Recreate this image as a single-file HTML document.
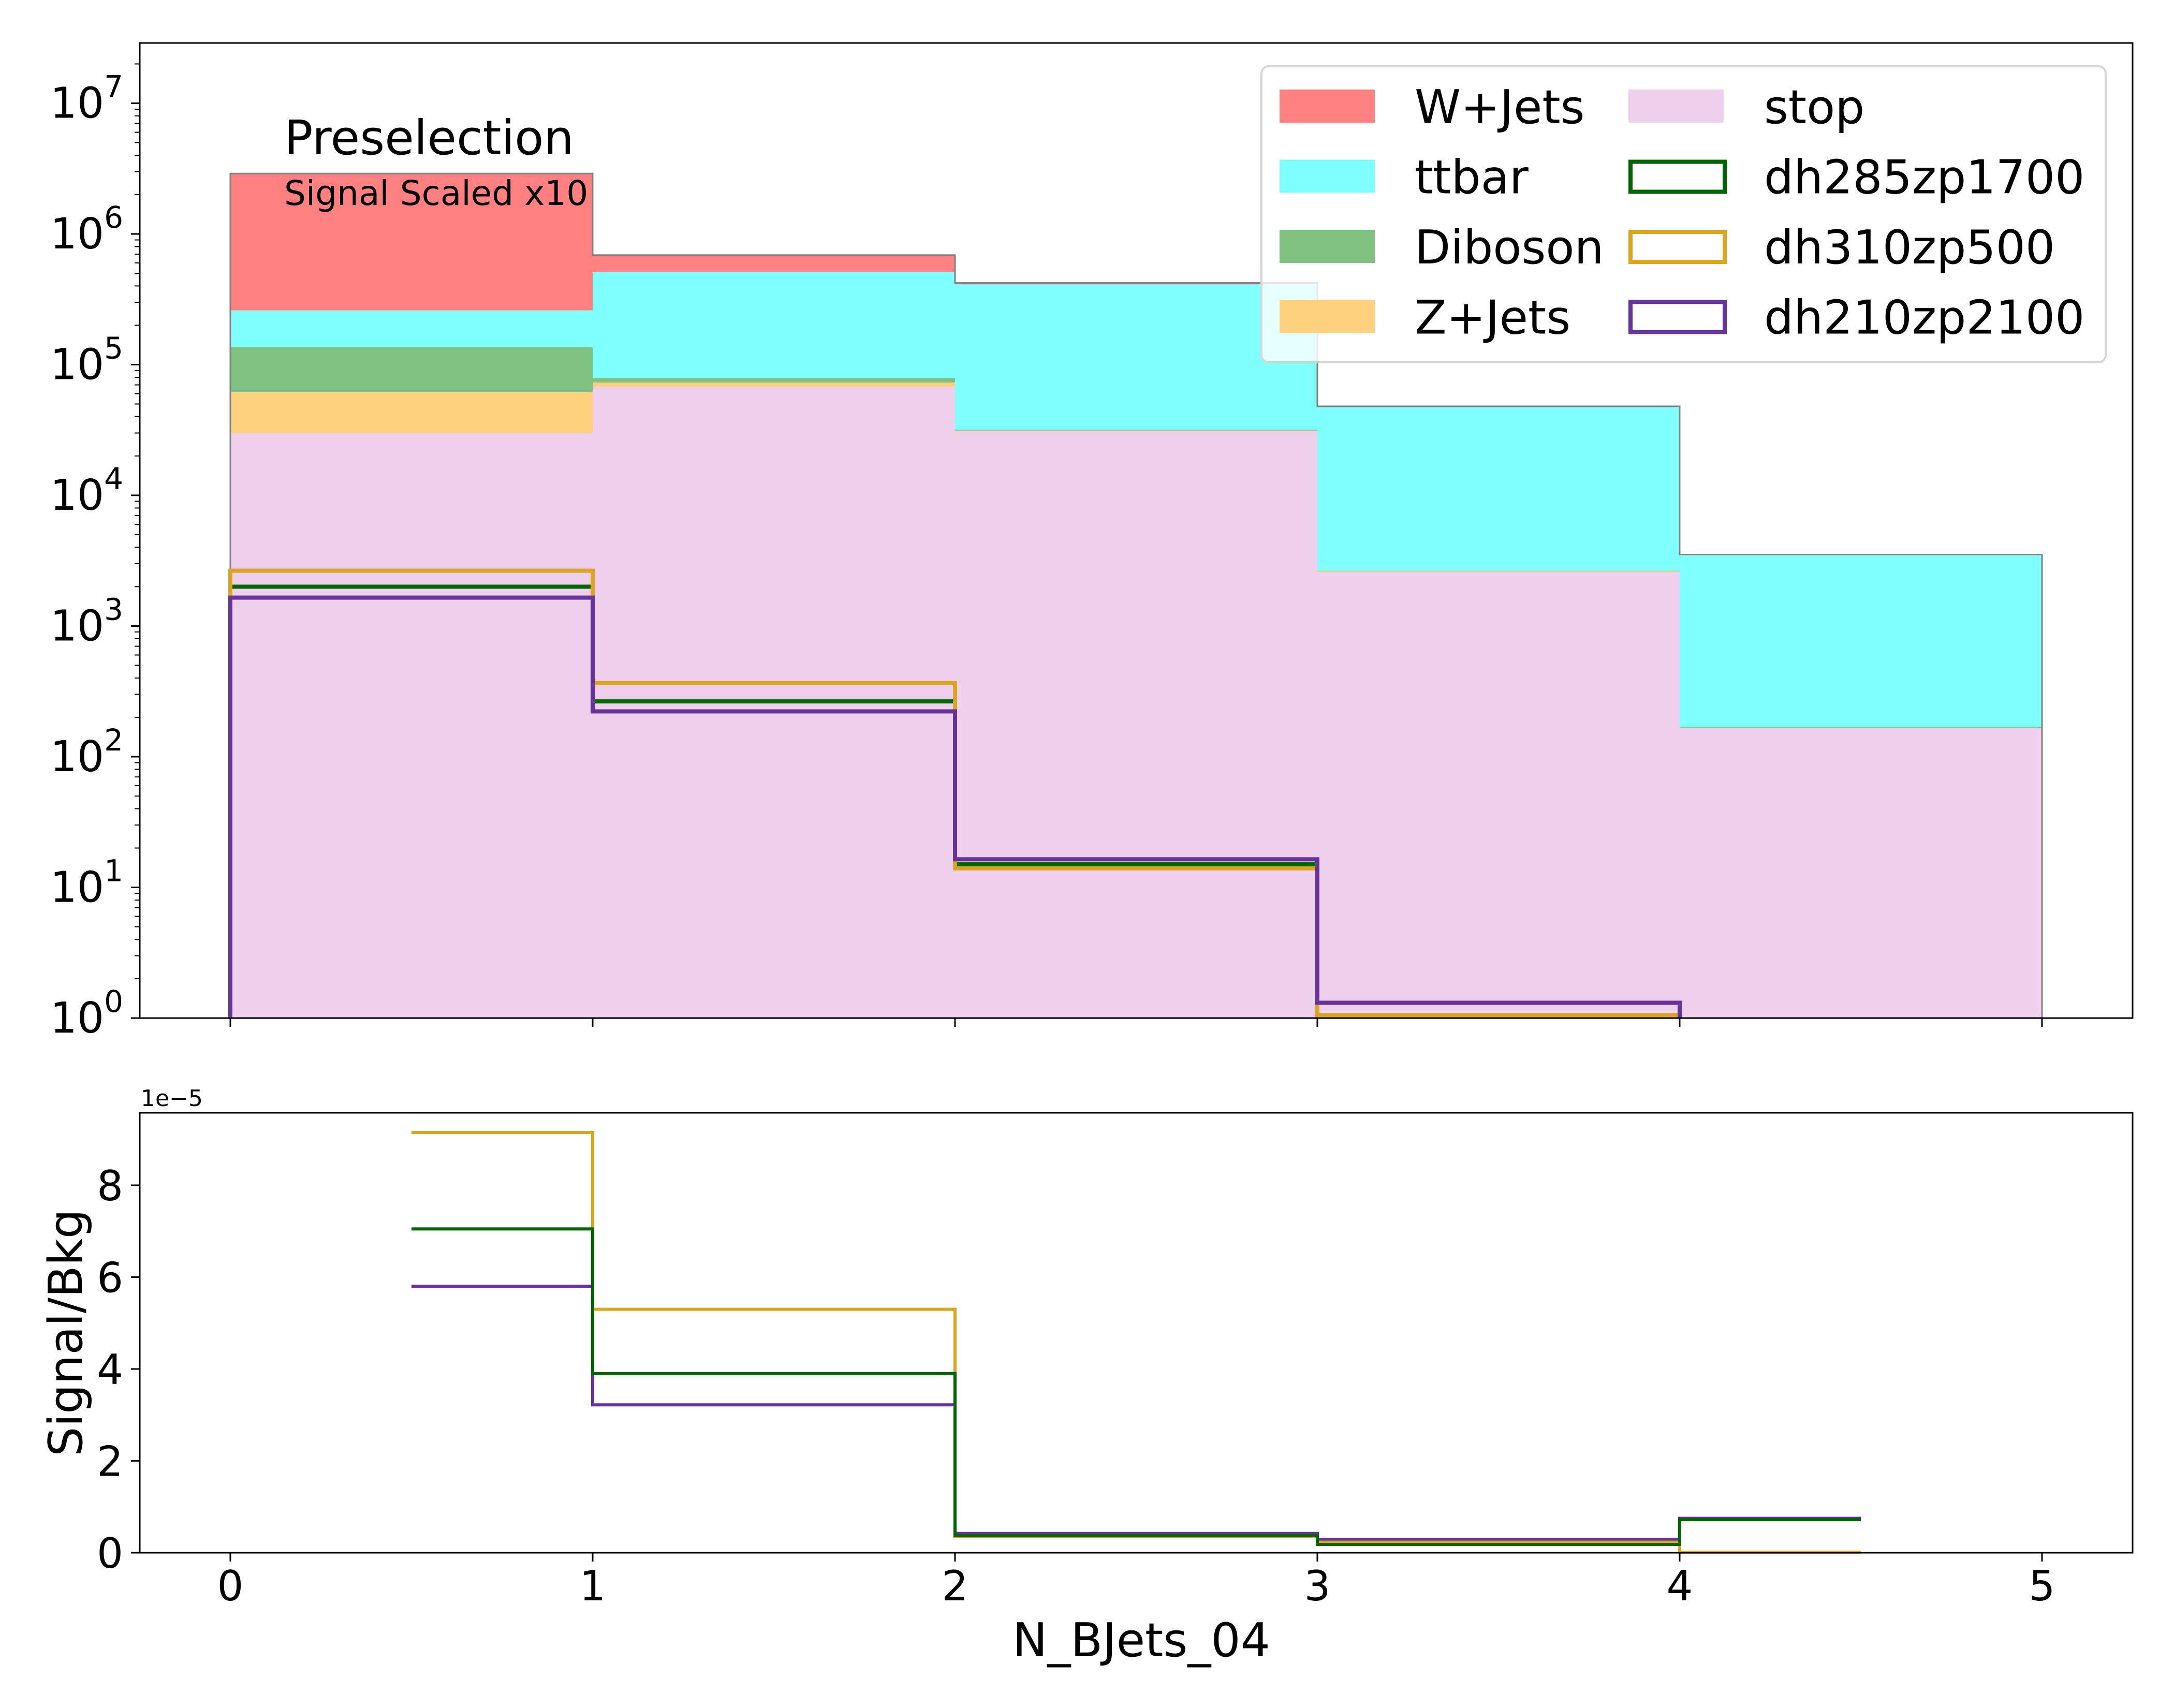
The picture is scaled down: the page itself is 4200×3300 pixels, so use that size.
<!DOCTYPE html>
<html><head><meta charset="utf-8"><style>
html,body{margin:0;padding:0;background:#fff;}
svg{display:block;font-family:"DejaVu Sans","Liberation Sans",sans-serif;}
</style></head><body>
<svg id="chart" width="4200" height="3300" xmlns="http://www.w3.org/2000/svg"></svg>
<script>
const binEdges = [0,1,2,3,4,5];
const stopVals = [30000, 68000, 31000, 2600, 165];
const zjetsVals = [32000, 5000, 300, 20, 1];
const dibosonVals = [74000, 6000, 500, 30, 2];
const ttbarVals = [124000, 430000, 380000, 44850, 3330];
const wjetsVals = [2640000, 180000, 10000, 500, 20];
const sigGreen = [2000, 265, 15, 1.05, 0];
const sigOrange = [2650, 365, 14, 1.05, 0];
const sigPurple = [1650, 222, 16.4, 1.31, 0];
const ratioGreen = [7.05, 3.9, 0.37, 0.18, 0.72];
const ratioOrange = [9.15, 5.3, 0.35, 0.23, 0.01];
const ratioPurple = [5.8, 3.22, 0.42, 0.29, 0.75];
const xTicks = [0,1,2,3,4,5];
const logTicks = [0,1,2,3,4,5,6,7];
const ratioTicks = [0,2,4,6,8];

const NS="http://www.w3.org/2000/svg";
const svg=document.getElementById('chart');
function el(tag,attrs,parent){const e=document.createElementNS(NS,tag);for(const k in attrs)e.setAttribute(k,attrs[k]);(parent||svg).appendChild(e);return e;}

const L=270,R=4120;
const X=v=>445+v*700;
const UT=83,UB=1967,DEC=252.5;
const Y=v=>UB-Math.log10(Math.max(v,1e-9))*DEC;
const LT=2150,LB=3000;
const YR=v=>LB-v*88.75;

const upper=el('g',{});


const clipU=el('clipPath',{id:'cu'});el('rect',{x:L,y:UT,width:R-L,height:UB-UT},clipU);
const plotU=el('g',{'clip-path':'url(#cu)'},upper);

const layers=[['stop',stopVals,'#eecfec'],['zjets',zjetsVals,'#fed17f'],['diboson',dibosonVals,'#80c080'],['ttbar',ttbarVals,'#80ffff'],['wjets',wjetsVals,'#ff8080']];
const cum=[0,0,0,0,0];
layers.forEach(([nm,vals,col])=>{
  for(let i=0;i<vals.length;i++){
    const lo=cum[i],hi=cum[i]+vals[i];
    const y0=lo<=0?UB+10:Y(lo), y1=Y(hi);
    const r=el('rect',{x:X(binEdges[i]),y:y1,width:X(binEdges[i+1])-X(binEdges[i]),height:Math.max(0,y0-y1),fill:col},plotU);
    
    
    cum[i]=hi;
  }
});
let d='M'+X(0)+','+(UB+10);
for(let i=0;i<cum.length;i++){d+=' L'+X(binEdges[i])+','+Y(cum[i])+' L'+X(binEdges[i+1])+','+Y(cum[i]);}
d+=' L'+X(5)+','+(UB+10);
const tot=el('path',{d:d,fill:'none',stroke:'#808080','stroke-width':3},plotU);



function stepHist(vals,col,name){
  let p='M'+X(0)+','+(UB+10);
  for(let i=0;i<vals.length;i++){const y=vals[i]>0?Y(vals[i]):UB+10;p+=' L'+X(binEdges[i])+','+y+' L'+X(binEdges[i+1])+','+y;}
  const e=el('path',{d:p,fill:'none',stroke:col,'stroke-width':8},plotU);
  
  
}
stepHist(sigGreen,'#006400','dh285zp1700-line');
stepHist(sigOrange,'#daa520','dh310zp500-line');
stepHist(sigPurple,'#663399','dh210zp2100-line');

el('rect',{x:L,y:UT,width:R-L,height:UB-UT,fill:'none',stroke:'#000','stroke-width':3},upper);
logTicks.forEach(k=>{
  const y=Y(Math.pow(10,k));
  el('line',{x1:L-17,x2:L,y1:y,y2:y,stroke:'#000','stroke-width':3},upper);
  const t=el('text',{x:L-32,y:y+28,'text-anchor':'end','font-size':82},upper);
  
  
  t.textContent='10';
  const s=el('tspan',{dy:-40,'font-size':58},t);s.textContent=String(k);
  for(let m=2;m<=9;m++){const yy=Y(m*Math.pow(10,k));if(yy>=UT)el('line',{x1:L-10,x2:L,y1:yy,y2:yy,stroke:'#000','stroke-width':2},upper);}
});
xTicks.forEach(v=>el('line',{x1:X(v),x2:X(v),y1:UB,y2:UB+17,stroke:'#000','stroke-width':3},upper));

const t1=el('text',{x:549,y:298,'font-size':92},upper);t1.textContent='Preselection';

const t2=el('text',{x:549,y:396,'font-size':66},upper);t2.textContent='Signal Scaled x10';


const lg=el('g',{});


el('rect',{x:2437,y:128,width:1631,height:572,rx:14,fill:'rgba(255,255,255,0.8)',stroke:'#d6d6d6','stroke-width':4},lg);
const leg=[['W+Jets','#ff8080',0,0,0],['ttbar','#80ffff',0,1,0],['Diboson','#80c080',0,2,0],['Z+Jets','#fed17f',0,3,0],['stop','#eecfec',1,0,0],['dh285zp1700','#006400',1,1,1],['dh310zp500','#daa520',1,2,1],['dh210zp2100','#663399',1,3,1]];
leg.forEach(([lab,col,c,r,outline])=>{
  const px=c?3146:2472, tx=c?3408:2733, cy=205+r*135.5;
  const g=el('g',{},lg);
  
  
  if(outline) el('rect',{x:px+4,y:cy-28,width:182,height:58,fill:'none',stroke:col,'stroke-width':8},g);
  else el('rect',{x:px,y:cy-32,width:184,height:64,fill:col},g);
  const t=el('text',{x:tx,y:cy+33,'font-size':90},g);t.textContent=lab;
});

const lower=el('g',{});


function ratioPath(vals,col,name){
  let p='M'+X(0.5)+','+YR(vals[0])+' L'+X(1)+','+YR(vals[0]);
  for(let i=1;i<vals.length;i++){p+=' L'+X(i)+','+YR(vals[i])+' L'+X(i===vals.length-1?i+0.5:i+1)+','+YR(vals[i]);}
  const e=el('path',{d:p,fill:'none',stroke:col,'stroke-width':6},lower);
  
  
}
ratioPath(ratioPurple,'#663399','ratio-dh210zp2100');
ratioPath(ratioOrange,'#daa520','ratio-dh310zp500');
ratioPath(ratioGreen,'#006400','ratio-dh285zp1700');
el('rect',{x:L,y:LT,width:R-L,height:LB-LT,fill:'none',stroke:'#000','stroke-width':3},lower);
ratioTicks.forEach(v=>{
  const y=YR(v);
  el('line',{x1:L-17,x2:L,y1:y,y2:y,stroke:'#000','stroke-width':3},lower);
  const t=el('text',{x:L-32,y:y+29,'text-anchor':'end','font-size':80},lower);t.textContent=String(v);
  
});
xTicks.forEach(v=>{
  el('line',{x1:X(v),x2:X(v),y1:LB,y2:LB+17,stroke:'#000','stroke-width':3},lower);
  const t=el('text',{x:X(v),y:LB+92,'text-anchor':'middle','font-size':80},lower);t.textContent=String(v);
  
});
const off=el('text',{x:272,y:2137,'font-size':44},lower);off.textContent='1e\u22125';

const xl=el('text',{x:2205,y:3200,'text-anchor':'middle','font-size':90});xl.textContent='N_BJets_04';

const yl=el('text',{x:0,y:0,'text-anchor':'middle','font-size':90,transform:'translate(158,2575) rotate(-90)'});yl.textContent='Signal/Bkg';

</script>
</body></html>
